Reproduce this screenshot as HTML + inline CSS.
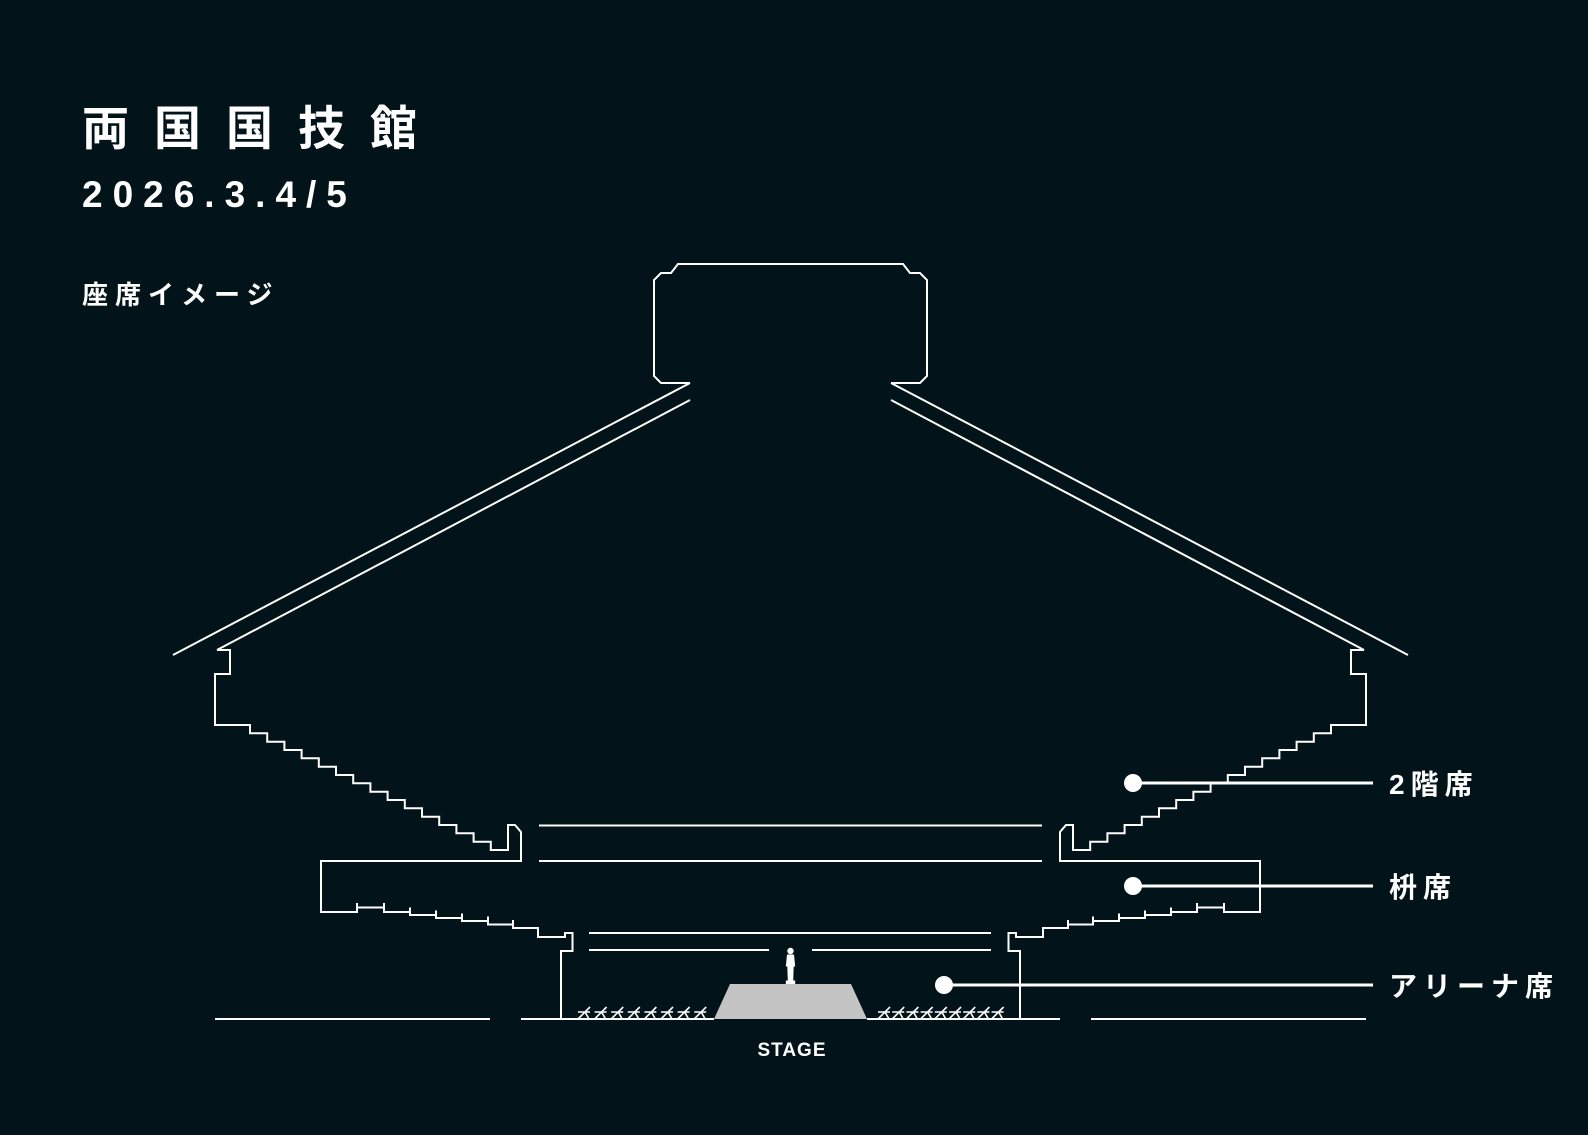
<!DOCTYPE html>
<html><head><meta charset="utf-8"><style>
html,body{margin:0;padding:0;background:#02141a;}
body{width:1588px;height:1135px;overflow:hidden;position:relative;}
.t{position:absolute;color:#fff;font-family:"Liberation Sans","Noto Sans CJK JP",sans-serif;white-space:nowrap;}
</style></head><body>
<div class="t" style="left:82px;top:98px;font-size:47px;letter-spacing:25px;font-weight:bold;line-height:62px;">両国国技館</div>
<div class="t" style="left:82px;top:175px;font-size:37px;letter-spacing:10px;font-weight:bold;line-height:40px;">2026.3.4/5</div>
<div class="t" style="left:82px;top:278px;font-size:26px;letter-spacing:7px;font-weight:bold;line-height:34px;">座席イメージ</div>
<svg style="position:absolute;left:0;top:0" width="1588" height="1135" viewBox="0 0 1588 1135">
<g fill="none" stroke="#fff" stroke-width="2">
<path d="M690,383 H661 L654,376 V280 L661,273 H671 L678,264 H903 L910,273 H920 L927,280 V376 L920,383 H891"/>
<g id="L">
<path d="M690,383 L173,655 M690,400 L217,650"/>
<path d="M217,650 H230 V674 H215 V725 H250 V733.3 H267.2 V741.7 H284.4 V750 H301.6 V758.3 H318.8 V766.7 H336 V775 H353.2 V783.3 H370.4 V791.7 H387.6 V800 H404.8 V808.3 H422 V816.7 H439.2 V825 H456.4 V833.3 H473.6 V841.7 H490.8 V850 H508 V825 H515 L521,832 V861 H321 V912 H357 V907.5 H384 V912 H410 V915 H436 V918 H462 V921 H488 V924.5 H513 V928 H538 V937 H565 V933 H572.5 V951 H561 V1019"/>
<path d="M357,903V907.5 M384,903V907.5 M410,907.5V912 M436,910.5V915 M462,913.5V918 M488,916.5V921 M513,920V924.5"/>
<path d="M215,1019 H490 M521,1019 H714"/>
</g>
<use href="#L" transform="translate(1581,0) scale(-1,1)"/>
<path d="M539,825.5 H1042 M539,861 H1042 M589,933 H991 M589,950 H769 M812,950 H991"/>
<path d="M867,1019 H1060"/>
</g>
<path d="M714,1019 L730,984 H851 L867,1019 Z" fill="#c4c4c4"/>
<g fill="#fff">
<circle cx="790.5" cy="951" r="3.2"/>
<path d="M787,954.5 h7 l1.2,12 h-1.5 l-0.5,14 h2 v3.5 h-9.4 v-3.5 h2 l-0.5,-14 h-1.5 z"/>
</g>
<g stroke="#fff" stroke-width="1.6" fill="none">
<path d="M578,1019 L590,1007 M578,1012 H590 M585,1012 L589,1019
M594.6,1019 L606.6,1007 M594.6,1012 H606.6 M601.6,1012 L605.6,1019
M611.2,1019 L623.2,1007 M611.2,1012 H623.2 M618.2,1012 L622.2,1019
M627.8,1019 L639.8,1007 M627.8,1012 H639.8 M634.8,1012 L638.8,1019
M644.4,1019 L656.4,1007 M644.4,1012 H656.4 M651.4,1012 L655.4,1019
M661,1019 L673,1007 M661,1012 H673 M668,1012 L672,1019
M677.6,1019 L689.6,1007 M677.6,1012 H689.6 M684.6,1012 L688.6,1019
M694.2,1019 L706.2,1007 M694.2,1012 H706.2 M701.2,1012 L705.2,1019"/>
<path d="M878,1019 L890,1007 M878,1012 H890 M885,1012 L889,1019
M892.2,1019 L904.2,1007 M892.2,1012 H904.2 M899.2,1012 L903.2,1019
M906.4,1019 L918.4,1007 M906.4,1012 H918.4 M913.4,1012 L917.4,1019
M920.6,1019 L932.6,1007 M920.6,1012 H932.6 M927.6,1012 L931.6,1019
M934.8,1019 L946.8,1007 M934.8,1012 H946.8 M941.8,1012 L945.8,1019
M949,1019 L961,1007 M949,1012 H961 M956,1012 L960,1019
M963.2,1019 L975.2,1007 M963.2,1012 H975.2 M970.2,1012 L974.2,1019
M977.4,1019 L989.4,1007 M977.4,1012 H989.4 M984.4,1012 L988.4,1019
M991.6,1019 L1003.6,1007 M991.6,1012 H1003.6 M998.6,1012 L1002.6,1019"/>
</g>
<g fill="#fff" stroke="#fff" stroke-width="3">
<circle cx="1133" cy="783" r="9" stroke="none"/><path d="M1133,783 H1373"/>
<circle cx="1133" cy="886" r="9" stroke="none"/><path d="M1133,886 H1373"/>
<circle cx="944" cy="985" r="9" stroke="none"/><path d="M944,985 H1373"/>
</g>
<g fill="#fff" font-family="Liberation Sans, Noto Sans CJK JP, sans-serif" font-weight="bold">
<text x="1389" y="794" font-size="28" letter-spacing="6">2階席</text>
<text x="1389" y="897" font-size="28" letter-spacing="6">枡席</text>
<text x="1389" y="996" font-size="28" letter-spacing="6">アリーナ席</text>
<text x="792" y="1056" font-size="19" text-anchor="middle" letter-spacing="1">STAGE</text>
</g>
</svg>
</body></html>
